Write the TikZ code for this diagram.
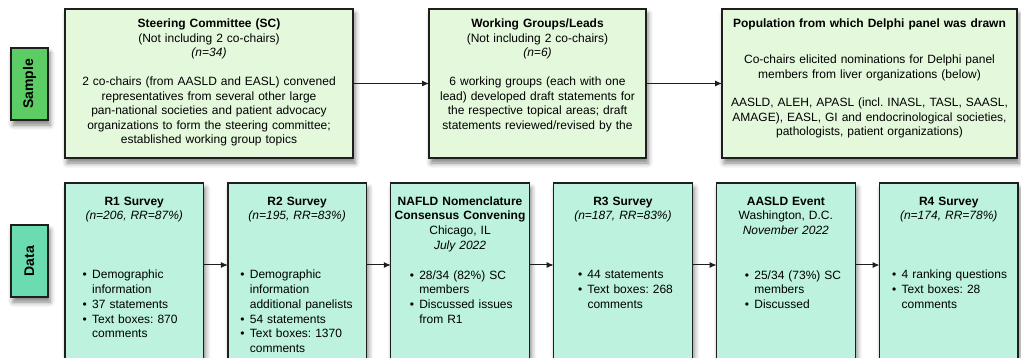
\documentclass[tikz,border=0pt]{standalone}
\usepackage{fontspec}
\setmainfont{Liberation Sans}
\usepackage{xcolor}
\usepackage{tikz}
\usetikzlibrary{arrows.meta,positioning,shadows.blur}
\frenchspacing
\definecolor{topgreen}{HTML}{E4F8DC}
\definecolor{botmint}{HTML}{BCF2DE}
\definecolor{smpgreen}{HTML}{5CCC64}
\definecolor{datmint}{HTML}{6ADCB0}
\definecolor{edge}{HTML}{1E1E1E}
% bullet lists inside the boxes
\newcommand{\blist}[1]{\par\raggedright\leftskip=#1\relax\parfillskip=0pt plus 1fil\relax}
\newcommand{\bul}{\par\noindent\hskip-9.5pt\makebox[9.5pt][l]{\textbullet}}
\tikzset{
  shd/.style={blur shadow={shadow xshift=2pt, shadow yshift=-5pt,
              shadow blur radius=5pt, shadow opacity=50}},
  topbox/.style={draw=edge, line width=1.2pt, fill=topgreen, shd,
                 inner xsep=3pt, inner ysep=0pt, outer sep=0pt, align=center,
                 text height=19pt, text depth=130pt,
                 font=\fontsize{12}{14.5}\selectfont},
  botbox/.style={draw=edge, line width=1.2pt, fill=botmint, shd,
                 inner xsep=2pt, inner ysep=0pt, outer sep=0pt, align=center,
                 text width=134.5pt, text height=22.3pt, text depth=200pt,
                 font=\fontsize{12}{14.7}\selectfont},
  tag/.style={draw=edge, line width=1.2pt, shd, inner sep=0pt, outer sep=0pt,
              minimum width=37pt, minimum height=72pt,
              font=\fontsize{14}{16}\selectfont\bfseries},
  flow/.style={-{Latex[length=7pt,width=6pt]}, line width=1pt, draw=edge},
}

\begin{document}
\begin{tikzpicture}[x=1pt, y=-1pt]
  \useasboundingbox (0,0) rectangle (1021,358);

  % top row: sample
  \node[tag, fill=smpgreen] (smp) at (29.5,84) {\rotatebox{90}{Sample}};
  \node[topbox, text width=282pt, anchor=north west] (sc) at (65,9)
    {\textbf{Steering Committee (SC)}\\
     (Not including 2 co-chairs)\\
     \textit{(n=34)}\\[14.5pt]
     2 co-chairs (from AASLD and EASL) convened\\
     representatives from several other large\\
     pan-national societies and patient advocacy\\
     organizations to form the steering committee;\\
     established working group topics};
  \node[topbox, text width=211pt, right=76pt of sc] (wg)
    {\textbf{Working Groups/Leads}\\
     (Not including 2 co-chairs)\\
     \textit{(n=6)}\\[14.5pt]
     6 working groups (each with one\\
     lead) developed draft statements for\\
     the respective topical areas; draft\\
     statements reviewed/revised by the};
  \node[topbox, text width=289pt, right=76pt of wg] (pop)
    {\textbf{Population from which Delphi panel was drawn}\\[21.5pt]
     Co-chairs elicited nominations for Delphi panel\\
     members from liver organizations (below)\\[14pt]
     AASLD, ALEH, APASL (incl. INASL, TASL, SAASL,\\
     AMAGE), EASL, GI and endocrinological societies,\\
     pathologists, patient organizations)};

  \draw[flow] (sc) -- (wg);
  \draw[flow] (wg) -- (pop);

  % bottom row: data
  \node[tag, fill=datmint] (dat) at (29.5,261) {\rotatebox{90}{Data}};
  \node[botbox, anchor=north west] (r1) at (65,183)
    {\textbf{R1 Survey}\\
     \textit{(n=206, RR=87\%)}\par\vspace{44.3pt}
     \blist{25.2pt}
     \bul Demographic\par information
     \bul 37 statements
     \bul Text boxes: 870\par comments\par};
  \node[botbox, right=24.4pt of r1] (r2)
    {\textbf{R2 Survey}\\
     \textit{(n=195, RR=83\%)}\par\vspace{44.3pt}
     \blist{20pt}
     \bul Demographic\par information\par additional panelists
     \bul 54 statements
     \bul Text boxes: 1370\par comments\par};
  \node[botbox, right=24.4pt of r2] (naf)
    {\textbf{NAFLD Nomenclature}\\
     \textbf{Consensus Convening}\\
     Chicago, IL\\
     \textit{July 2022}\par\vspace{15.2pt}
     \blist{26.5pt}
     \bul 28/34 (82\%) SC\par members
     \bul Discussed issues\par from R1\par};
  \node[botbox, right=24.4pt of naf] (r3)
    {\textbf{R3 Survey}\\
     \textit{(n=187, RR=83\%)}\par\vspace{44.3pt}
     \blist{31.8pt}
     \bul 44 statements
     \bul Text boxes: 268\par comments\par};
  \node[botbox, right=24.4pt of r3] (evt)
    {\textbf{AASLD Event}\\
     Washington, D.C.\\
     \textit{November 2022}\par\vspace{29.7pt}
     \blist{35.8pt}
     \bul 25/34 (73\%) SC\par members
     \bul Discussed\par};
  \node[botbox, right=24.4pt of evt] (r4)
    {\textbf{R4 Survey}\\
     \textit{(n=174, RR=78\%)}\par\vspace{44.3pt}
     \blist{20.2pt}
     \bul 4 ranking questions
     \bul Text boxes: 28\par comments\par};

  \coordinate (lvl) at (0,265);
  \foreach \a/\b in {r1/r2, r2/naf, naf/r3, r3/evt, evt/r4}
    \draw[flow] (\a.east |- lvl) -- (\b.west |- lvl);
\end{tikzpicture}
\end{document}
